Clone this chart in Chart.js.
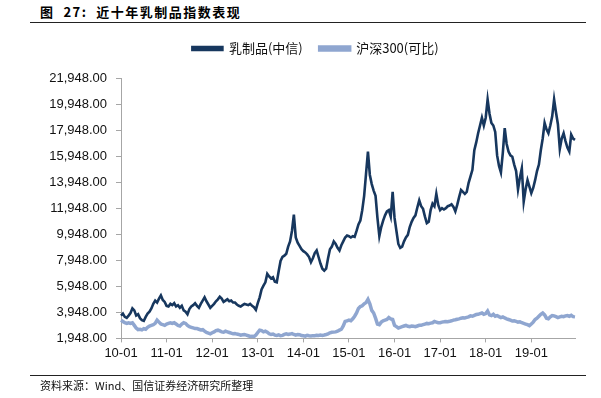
<!DOCTYPE html>
<html>
<head>
<meta charset="utf-8">
<script src="https://cdn.jsdelivr.net/npm/chart.js@4"></script>
<style>
  body { margin: 0; width: 601px; height: 398px; background: #fff; position: relative; overflow: hidden; }
  .title { position: absolute; left: 40px; top: 2px; font: bold 13px "Noto Sans CJK SC", "Liberation Sans", sans-serif; letter-spacing: 1.5px; color: #000; white-space: pre; }
  .rule { position: absolute; left: 30px; width: 556px; height: 1px; background: #222; }
  .source { position: absolute; left: 40px; top: 377px; font: 11px "Noto Sans CJK SC", "Liberation Sans", sans-serif; color: #111; }
  #wrap { position: absolute; left: 0; top: 25px; width: 601px; height: 352px; }
</style>
</head>
<body>
<div class="title">图  27:  近十年乳制品指数表现</div>
<div class="rule" style="top:22px"></div>
<div id="wrap"><canvas id="dairyChart"></canvas></div>
<div class="rule" style="top:375px"></div>
<div class="source">资料来源：Wind、国信证券经济研究所整理</div>
<script>
// half-month points, Jan 2010 .. Dec 2019
const yearTicks = ['10-01', '11-01', '12-01', '13-01', '14-01', '15-01', '16-01', '17-01', '18-01', '19-01'];
const seriesNames = ['乳制品(中信)', '沪深300(可比)'];

const dairy = [
    3700, 3850, 3600, 3520, 3700, 3900, 4250, 4100, 3700, 3800, 3500, 3350, 3300, 3600, 3850, 4000, 4250, 4600, 4850, 4700, 5000, 5250, 4900, 4750,
    4450, 4400, 4600, 4500, 4650, 4400, 4500, 4300, 4450, 4100, 4000, 3800, 4200, 4400, 4500, 4650, 4450, 4300, 4600, 4850, 5100, 4800, 4550, 4300,
    4450, 4600, 4800, 4950, 5150, 5000, 4750, 4850, 4950, 4800, 4850, 4700, 4700, 4550, 4450, 4400, 4500, 4600, 4550, 4500, 4600, 4450, 4350, 4150,
    4650, 5100, 5700, 6000, 6250, 6900, 6700, 6550, 6650, 6300, 6250, 7100, 7900, 8200, 8300, 8450, 9000, 9400, 10200, 11450, 9700, 9300, 9050, 8800,
    8650, 8550, 8400, 8200, 7800, 8100, 8500, 8700, 8200, 7700, 7300, 7150, 7300, 8100, 8800, 9000, 9400, 9200, 8900, 8700, 9100, 9400, 9700, 9850,
    9800, 9700, 9800, 9750, 10200, 10700, 11000, 11800, 12900, 14600, 16300, 14500, 13800, 13300, 12900, 11200, 9800, 10500, 11000, 11400, 11700, 11800, 11300, 13200,
    11200, 10200, 9200, 8900, 9000, 9400, 9700, 9900, 10500, 10900, 11200, 11400, 12000, 12550, 12100, 11900, 11300, 10800, 10900, 11800, 12300, 12100, 13050, 12200,
    11800, 11950, 11850, 11950, 12100, 12150, 12250, 12050, 11700, 12200, 12800, 13350, 13200, 13050, 13200, 13900, 14400, 14900, 16400, 17000, 17700, 18300, 18900, 18300,
    18900, 20300, 19200, 18500, 18300, 17800, 16000, 15200, 14700, 16200, 18100, 16900, 16300, 16000, 15900, 15300, 14800, 13400, 14300, 15000, 12450, 13400, 14100, 13600,
    13100, 13500, 14100, 14800, 15300, 16400, 17300, 18500, 18000, 17700, 18300, 19000, 20300, 19300, 18400, 16500, 17300, 17700, 17100, 16600, 16300, 17600, 17300, 17200
];

const hs300 = [
    3350, 3250, 3150, 3100, 3150, 3100, 3150, 2950, 2750, 2620, 2650, 2600, 2700, 2650, 2800, 2900, 2950, 3000, 3100, 3350, 3200, 3050, 3000, 2950,
    3050, 3100, 3150, 3100, 3150, 3050, 2950, 2900, 3050, 3150, 3100, 2950, 2850, 2800, 2750, 2700, 2700, 2650, 2600, 2620, 2500, 2400, 2350, 2300,
    2380, 2450, 2550, 2580, 2520, 2450, 2420, 2500, 2450, 2400, 2350, 2300, 2320, 2280, 2250, 2200, 2230, 2250, 2200, 2150, 2100, 2120, 2080, 2200,
    2400, 2580, 2550, 2450, 2500, 2430, 2300, 2250, 2280, 2200, 2180, 2220, 2150, 2180, 2250, 2300, 2250, 2280, 2320, 2250, 2200, 2250, 2230, 2170,
    2150, 2120, 2180, 2150, 2130, 2160, 2150, 2180, 2170, 2200, 2180, 2210, 2250, 2300, 2380, 2420, 2430, 2450, 2500, 2580, 2650, 2900, 3250, 3300,
    3350, 3300, 3450, 3650, 3900, 4250, 4400, 4450, 4600, 4700, 4950, 4600, 4100, 3900, 3500, 3050, 3000, 3200, 3300, 3350, 3400, 3550, 3450, 3400,
    2950, 2850, 2750, 2800, 2850, 2900, 2950, 2880, 2850, 2900, 2880, 2850, 2900, 2950, 2950, 3000, 3050, 3100, 3080, 3120, 3150, 3250, 3200, 3150,
    3150, 3200, 3220, 3250, 3230, 3260, 3300, 3350, 3380, 3420, 3450, 3500, 3530, 3520, 3560, 3600, 3680, 3650, 3720, 3780, 3800, 3850, 3900, 3800,
    3850, 4050, 3750, 3700, 3800, 3650, 3700, 3620, 3550, 3600, 3520, 3450, 3400, 3350, 3280, 3300, 3250, 3200, 3220, 3150, 3100, 3050, 3000, 2930,
    3050, 3200, 3400, 3500, 3650, 3800, 3900, 3750, 3500, 3450, 3600, 3700, 3680, 3620, 3550, 3600, 3650, 3620, 3680, 3700, 3650, 3720, 3620, 3600
];

// category labels: yy-mm, two per month
const labels = [];
for (let y = 10; y <= 19; y++) {
    for (let m = 1; m <= 12; m++) {
        const mm = String(m).padStart(2, '0');
        labels.push(y + '-' + mm + 'a', y + '-' + mm + 'b');
    }
}

const axisGrey = '#a6a6a6';
const cjkFont = '"Noto Sans CJK SC", "Liberation Sans", sans-serif';
const numFont = '"Liberation Sans", Arial, sans-serif';

// more room under the legend, and legend centred over the plot rather than the canvas
const legendTweak = {
    id: 'legendTweak',
    beforeInit(chart) {
        const fit = chart.legend.fit;
        chart.legend.fit = function () {
            fit.call(this);
            this.height += 13;
        };
    },
    afterLayout(chart) {
        chart.legend.left += 28;
        chart.legend.right += 28;
    }
};

const ctx = document.getElementById('dairyChart').getContext('2d');
const dairyChart = new Chart(ctx, {
    type: 'line',
    data: {
        labels: labels,
        datasets: [
            {
                label: seriesNames[0],
                data: dairy,
                borderColor: '#17375e',
                backgroundColor: '#17375e',
                borderWidth: 2.6,
                pointRadius: 0,
                tension: 0,
                fill: false
            },
            {
                label: seriesNames[1],
                data: hs300,
                borderColor: '#8fa6d0',
                backgroundColor: '#8fa6d0',
                borderWidth: 3.5,
                pointRadius: 0,
                tension: 0,
                fill: false
            }
        ]
    },
    plugins: [legendTweak],
    options: {
        responsive: true,
        maintainAspectRatio: false,
        animation: false,
        layout: { padding: { left: 0, right: 26, top: 0, bottom: 13 } },
        plugins: {
            tooltip: { enabled: false },
            legend: {
                position: 'top',
                labels: {
                    boxWidth: 30,
                    boxHeight: 3,
                    padding: 17,
                    color: '#111',
                    font: { family: cjkFont, size: 13 }
                }
            }
        },
        scales: {
            x: {
                type: 'category',
                offset: false,
                border: { color: axisGrey },
                grid: { drawOnChartArea: false, drawTicks: true, tickLength: 4, color: axisGrey },
                ticks: {
                    autoSkip: false,
                    maxRotation: 0,
                    padding: 3,
                    color: '#111',
                    font: { family: numFont, size: 13 },
                    callback: (value, index) => index % 24 === 0 ? yearTicks[index / 24] : null
                }
            },
            y: {
                min: 1948,
                max: 21948,
                afterFit: (scale) => { scale.width = 121; },
                border: { color: axisGrey },
                grid: { drawOnChartArea: false, drawTicks: true, tickLength: 5, color: axisGrey },
                ticks: {
                    stepSize: 2000,
                    padding: 9,
                    color: '#111',
                    font: { family: numFont, size: 13 },
                    callback: (value) => value.toLocaleString('en-US', { minimumFractionDigits: 2, maximumFractionDigits: 2 })
                }
            }
        }
    }
});
</script>
</body>
</html>
